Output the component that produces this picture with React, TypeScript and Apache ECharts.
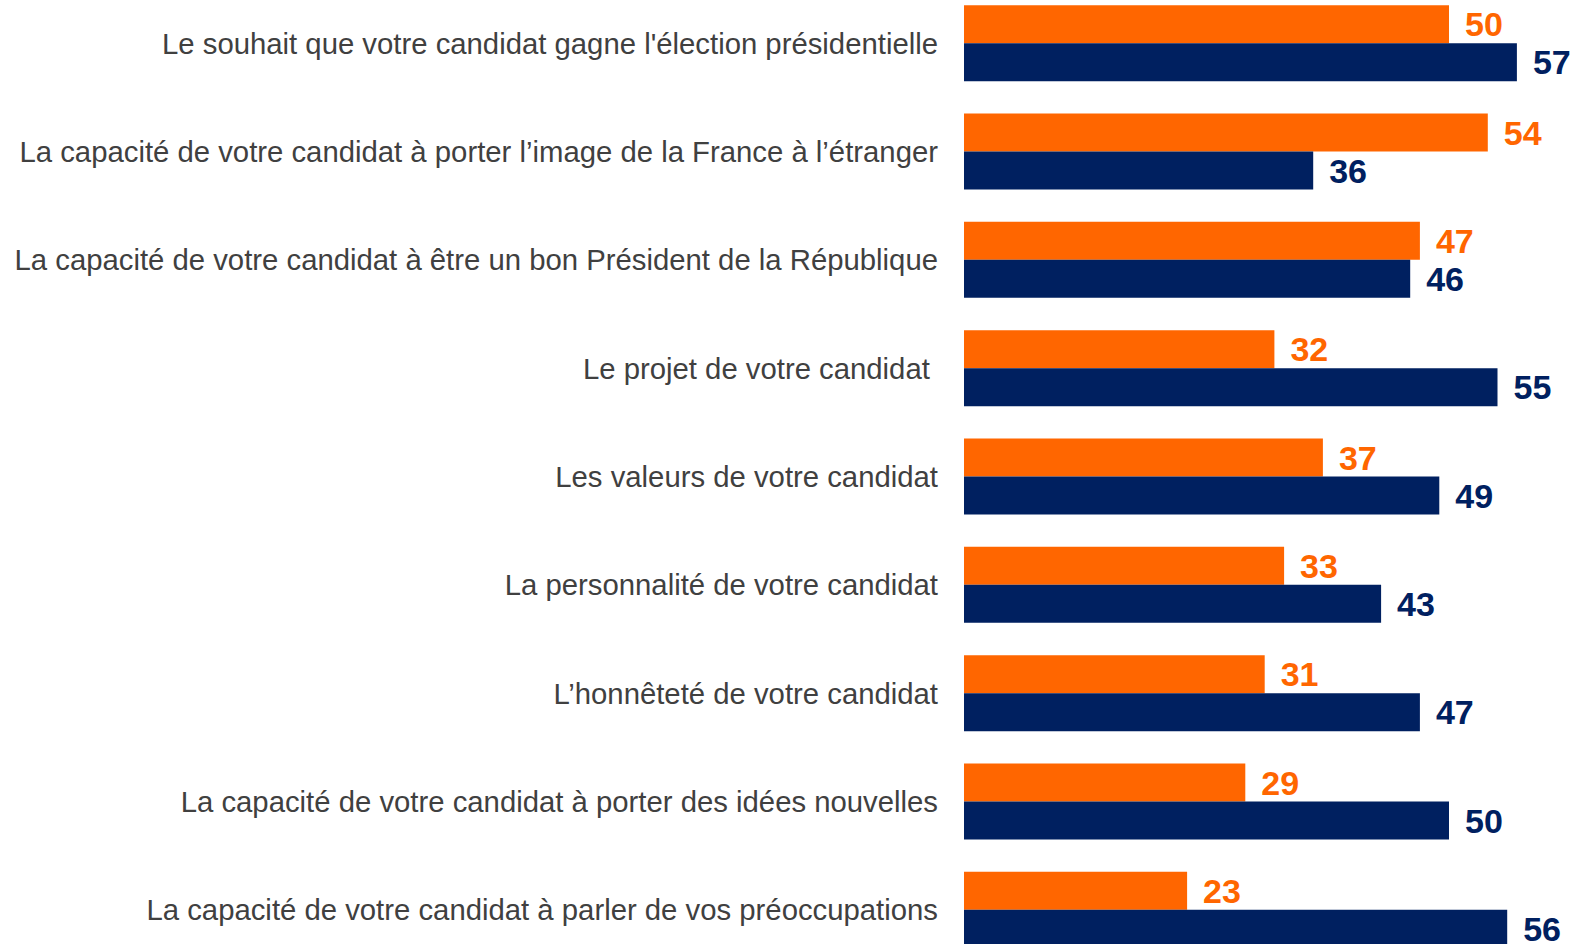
import React, { useEffect, useRef } from "react";
import * as echarts from "echarts";

const categories = [
  "Le souhait que votre candidat gagne l'élection présidentielle",
  "La capacité de votre candidat à porter l’image de la France à l’étranger",
  "La capacité de votre candidat à être un bon Président de la République",
  "Le projet de votre candidat ",
  "Les valeurs de votre candidat",
  "La personnalité de votre candidat",
  "L’honnêteté de votre candidat",
  "La capacité de votre candidat à porter des idées nouvelles",
  "La capacité de votre candidat à parler de vos préoccupations",
];

const orangeValues = [50, 54, 47, 32, 37, 33, 31, 29, 23];
const navyValues = [57, 36, 46, 55, 49, 43, 47, 50, 56];

const ORANGE = "#FF6600";
const NAVY = "#002060";

export default function App() {
  const ref = useRef<HTMLDivElement>(null);
  useEffect(() => {
    if (!ref.current) return;
    const chart = echarts.init(ref.current, null, { renderer: "svg" });
    const labelBase = {
      show: true,
      position: "right",
      distance: 16,
      fontFamily: "Liberation Sans, Arial, sans-serif",
      fontWeight: "bold",
      fontSize: 34,
    };
    chart.setOption({
      animation: false,
      backgroundColor: "#ffffff",
      grid: { left: 964, right: 32, top: 0, bottom: 0, containLabel: false },
      xAxis: {
        type: "value",
        min: 0,
        max: 60,
        show: false,
        splitLine: { show: false },
      },
      yAxis: {
        type: "category",
        data: categories,
        inverse: true,
        axisLine: { show: false },
        axisTick: { show: false },
        axisLabel: {
          margin: 26,
          fontFamily: "Liberation Sans, Arial, sans-serif",
          fontSize: 29.3,
          color: "#404040",
        },
      },
      series: [
        {
          type: "bar",
          data: orangeValues,
          barWidth: 38,
          barGap: "0%",
          itemStyle: { color: ORANGE },
          label: { ...labelBase, color: ORANGE },
        },
        {
          type: "bar",
          data: navyValues,
          barWidth: 38,
          barGap: "0%",
          itemStyle: { color: NAVY },
          label: { ...labelBase, color: NAVY },
        },
      ],
    });
    return () => chart.dispose();
  }, []);
  return (
    <div
      style={{
        position: "fixed",
        left: 0,
        top: 0,
        width: 1578,
        height: 944,
        overflow: "hidden",
        background: "#fff",
      }}
    >
      <div
        ref={ref}
        style={{ position: "absolute", left: 0, top: -11, width: 1578, height: 975 }}
      />
    </div>
  );
}
